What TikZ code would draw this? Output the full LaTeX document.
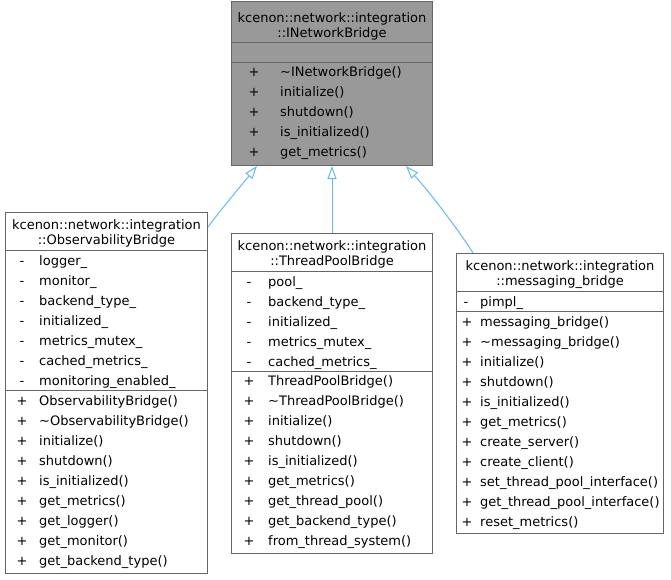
\documentclass[tikz,border=0pt]{standalone}
\usepackage{fontspec}
\setmainfont{DejaVu Sans}
\usepackage{tikz}
\usetikzlibrary{arrows.meta,calc}
\definecolor{boxline}{HTML}{666666}
\definecolor{basefill}{HTML}{999999}
\definecolor{linkblue}{HTML}{63B8FF}

\begin{document}
\begin{tikzpicture}[x=1pt,y=-1pt,font=\fontsize{13}{15}\selectfont,
            cls/.style={draw=boxline,fill=white,anchor=north west,inner sep=0,line width=1pt},
            txt/.style={inner sep=0,text height=11pt,text depth=1pt},
            vis/.style={txt,anchor=center},
            member/.style={txt,anchor=west},
            sep/.style={draw=boxline,line width=1pt},
            derived/.style={draw=linkblue,line width=1pt,-{Triangle[fill=white,length=13pt,width=9pt]}}]
            \useasboundingbox (0,0) rectangle (671,579);
            % interface
            \node[cls,fill=basefill,minimum width=201pt,minimum height=164.5pt] (Base) at (231,0.5) {};
            \node[txt] (BaseT1) at ($(Base.north)+(0,17)$) {kcenon::network::integration};
            \node[txt] (BaseT2) at ($(Base.north)+(0,32)$) {::INetworkBridge};
            \draw[sep] ($(Base.north west)+(0,42)$) -- ($(Base.north east)+(0,42)$);
            \draw[sep] ($(Base.north west)+(0,62)$) -- ($(Base.north east)+(0,62)$);
            \foreach \m [count=\i from 0] in {\textasciitilde INetworkBridge(),initialize(),shutdown(),is\_initialized(),get\_metrics()} {
                \node[vis] (Base-v\i) at ($(Base.north west)+(23,71+20*\i)$) {+};
                \node[member] (Base-m\i) at ($(Base.north west)+(49,71+20*\i)$) {\m};
            }
            % observability
            \node[cls,minimum width=202pt,minimum height=361pt] (Obs) at (5,212) {};
            \node[txt] (ObsT1) at ($(Obs.north)+(0,12)$) {kcenon::network::integration};
            \node[txt] (ObsT2) at ($(Obs.north)+(0,27)$) {::ObservabilityBridge};
            \draw[sep] ($(Obs.north west)+(0,38)$) -- ($(Obs.north east)+(0,38)$);
            \draw[sep] ($(Obs.north west)+(0,178)$) -- ($(Obs.north east)+(0,178)$);
            \foreach \m [count=\i from 0] in {logger\_,monitor\_,backend\_type\_,initialized\_,metrics\_mutex\_,cached\_metrics\_,monitoring\_enabled\_} {
                \node[vis] (Obs-a\i) at ($(Obs.north west)+(17,48+20*\i)$) {-};
                \node[member] (Obs-b\i) at ($(Obs.north west)+(34,48+20*\i)$) {\m};
            }
            \foreach \m [count=\i from 0] in {ObservabilityBridge(),\textasciitilde ObservabilityBridge(),initialize(),shutdown(),is\_initialized(),get\_metrics(),get\_logger(),get\_monitor(),get\_backend\_type()} {
                \node[vis] (Obs-v\i) at ($(Obs.north west)+(17,188.5+20*\i)$) {+};
                \node[member] (Obs-m\i) at ($(Obs.north west)+(34,188.5+20*\i)$) {\m};
            }
            % thread pool
            \node[cls,minimum width=201pt,minimum height=320pt] (Pool) at (231,233) {};
            \node[txt] (PoolT1) at ($(Pool.north)+(0,12)$) {kcenon::network::integration};
            \node[txt] (PoolT2) at ($(Pool.north)+(0,27)$) {::ThreadPoolBridge};
            \draw[sep] ($(Pool.north west)+(0,38)$) -- ($(Pool.north east)+(0,38)$);
            \draw[sep] ($(Pool.north west)+(0,138)$) -- ($(Pool.north east)+(0,138)$);
            \foreach \m [count=\i from 0] in {pool\_,backend\_type\_,initialized\_,metrics\_mutex\_,cached\_metrics\_} {
                \node[vis] (Pool-a\i) at ($(Pool.north west)+(18,48+20*\i)$) {-};
                \node[member] (Pool-b\i) at ($(Pool.north west)+(37,48+20*\i)$) {\m};
            }
            \foreach \m [count=\i from 0] in {ThreadPoolBridge(),\textasciitilde ThreadPoolBridge(),initialize(),shutdown(),is\_initialized(),get\_metrics(),get\_thread\_pool(),get\_backend\_type(),from\_thread\_system()} {
                \node[vis] (Pool-v\i) at ($(Pool.north west)+(18,147.5+20*\i)$) {+};
                \node[member] (Pool-m\i) at ($(Pool.north west)+(37,147.5+20*\i)$) {\m};
            }
            % messaging
            \node[cls,minimum width=207pt,minimum height=280pt] (Msg) at (456,253) {};
            \node[txt] (MsgT1) at ($(Msg.north)+(0,12)$) {kcenon::network::integration};
            \node[txt] (MsgT2) at ($(Msg.north)+(0,27)$) {::messaging\_bridge};
            \draw[sep] ($(Msg.north west)+(0,38)$) -- ($(Msg.north east)+(0,38)$);
            \draw[sep] ($(Msg.north west)+(0,58)$) -- ($(Msg.north east)+(0,58)$);
            \node[vis] (Msg-a0) at ($(Msg.north west)+(10,48)$) {-};
            \node[member] (Msg-b0) at ($(Msg.north west)+(24,48)$) {pimpl\_};
            \foreach \m [count=\i from 0] in {messaging\_bridge(),\textasciitilde messaging\_bridge(),initialize(),shutdown(),is\_initialized(),get\_metrics(),create\_server(),create\_client(),set\_thread\_pool\_interface(),get\_thread\_pool\_interface(),reset\_metrics()} {
                \node[vis] (Msg-v\i) at ($(Msg.north west)+(11,68+20*\i)$) {+};
                \node[member] (Msg-m\i) at ($(Msg.north west)+(24,68+20*\i)$) {\m};
            }
            % inheritance
            \draw[derived] ($(Obs.north east)+(0,15)$) .. controls (222,208) and (240,187) .. ($(Base.south west)+(26,0)$);
            \draw[derived] (Pool) -- (Base);
            \draw[derived] ($(Msg.north west)+(17,0)$) .. controls (460,232) and (432,195) .. ($(Base.south east)+(-27,0)$);
\end{tikzpicture}
\end{document}
